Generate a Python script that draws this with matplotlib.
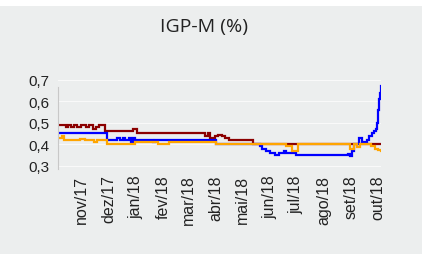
import pandas as pd
import matplotlib
matplotlib.use("Agg")
import matplotlib.pyplot as plt
from matplotlib.patches import Rectangle

# month ticks (Portuguese labels)
tick_dates = pd.date_range("2017-11-01", "2018-10-01", freq="MS")
tick_labels = ["nov/17", "dez/17", "jan/18", "fev/18", "mar/18", "abr/18",
               "mai/18", "jun/18", "jul/18", "ago/18", "set/18", "out/18"]
y_ticks = [0.3, 0.4, 0.5, 0.6, 0.7]

# series (value holds until next date)
red_dates = ["2017-10-05", "2017-10-14", "2017-10-16", "2017-10-20", "2017-10-23",
             "2017-10-27", "2017-10-31", "2017-11-06", "2017-11-09", "2017-11-14",
             "2017-11-17", "2017-11-20", "2017-11-27", "2017-12-29", "2018-01-02",
             "2018-03-20", "2018-03-23", "2018-03-26", "2018-03-31", "2018-04-04",
             "2018-04-08", "2018-04-12", "2018-04-16", "2018-05-13", "2018-10-05"]
red_vals = [0.49, 0.48, 0.49, 0.48, 0.49,
            0.48, 0.49, 0.48, 0.49, 0.47,
            0.48, 0.49, 0.46, 0.47, 0.45,
            0.44, 0.45, 0.43, 0.44, 0.445,
            0.44, 0.43, 0.42, 0.40, 0.40]

blue_dates = ["2017-10-05", "2017-11-29", "2017-12-11", "2017-12-14", "2017-12-17",
              "2017-12-20", "2017-12-24", "2017-12-27", "2017-12-29", "2017-12-31",
              "2018-01-20", "2018-01-23", "2018-04-02", "2018-05-21", "2018-05-24",
              "2018-05-28", "2018-06-02", "2018-06-07", "2018-06-12", "2018-06-17",
              "2018-06-20", "2018-07-01", "2018-08-29", "2018-08-31", "2018-09-02",
              "2018-09-05", "2018-09-10", "2018-09-14", "2018-09-19", "2018-09-22",
              "2018-09-25", "2018-09-27", "2018-09-29", "2018-10-01", "2018-10-02",
              "2018-10-03", "2018-10-04", "2018-10-05"]
blue_vals = [0.45, 0.42, 0.43, 0.42, 0.43,
             0.42, 0.43, 0.41, 0.43, 0.42,
             0.41, 0.42, 0.40, 0.39, 0.38,
             0.37, 0.36, 0.35, 0.36, 0.37,
             0.36, 0.35, 0.355, 0.345, 0.37,
             0.40, 0.43, 0.41, 0.42, 0.44,
             0.45, 0.46, 0.47, 0.50, 0.56,
             0.61, 0.64, 0.67]

orange_dates = ["2017-10-05", "2017-10-09", "2017-10-12", "2017-10-30", "2017-11-04",
                "2017-11-15", "2017-11-18", "2017-11-29", "2017-12-31", "2018-01-26",
                "2018-02-07", "2018-04-02", "2018-06-20", "2018-06-26", "2018-07-03",
                "2018-08-31", "2018-09-04", "2018-09-08", "2018-09-11", "2018-09-24",
                "2018-09-28", "2018-10-02", "2018-10-05"]
orange_vals = [0.43, 0.44, 0.42, 0.425, 0.42,
               0.41, 0.42, 0.40, 0.41, 0.40,
               0.41, 0.40, 0.39, 0.37, 0.40,
               0.38, 0.40, 0.385, 0.40, 0.39,
               0.38, 0.375, 0.37]

bg = "#eceeee"
fig = plt.figure(figsize=(4.35, 2.55), dpi=100, facecolor="white")
fig.patches.append(Rectangle((0, 0), 422 / 435, 248 / 255, transform=fig.transFigure,
                             facecolor=bg, edgecolor="none", zorder=-10))

ax = fig.add_axes([58 / 435, 85 / 255, (381 - 58) / 435, (170 - 80.7) / 255])
ax.set_facecolor(bg)
ax.patch.set_alpha(0)

for d, v, c in [(red_dates, red_vals, "#8b0000"),
                (blue_dates, blue_vals, "#0000ff"),
                (orange_dates, orange_vals, "#ffa500")]:
    ax.plot(pd.to_datetime(d), v, color=c, lw=1.6, drawstyle="steps-post",
            solid_joinstyle="miter")

ax.set_xlim(pd.Timestamp("2017-10-05"), pd.Timestamp("2018-10-05"))
ax.set_ylim(0.285, 0.7)
ax.set_yticks(y_ticks)
ax.set_yticklabels([f"{t:.1f}".replace(".", ",") for t in y_ticks],
                   fontsize=11, family="Liberation Sans", color="#222222")
ax.set_xticks(tick_dates)
ax.set_xticklabels(tick_labels, rotation=90, fontsize=11.5,
                   family="Liberation Sans", color="#222222")
ax.tick_params(length=0, pad=4)
ax.tick_params(axis="y", pad=6)
ax.grid(axis="y", color="white", lw=0.8, alpha=0.7)
ax.set_axisbelow(True)

for s in ["top", "right", "bottom"]:
    ax.spines[s].set_visible(False)
ax.spines["left"].set_color("#c8c8c8")
ax.spines["left"].set_bounds(0.285, 0.665)

fig.text(204 / 435, 1 - 27 / 255, "IGP-M (%)", ha="center", va="center",
         fontsize=14, family="Open Sans", color="#222222")

fig.savefig("out.png", dpi=100, facecolor="white")
